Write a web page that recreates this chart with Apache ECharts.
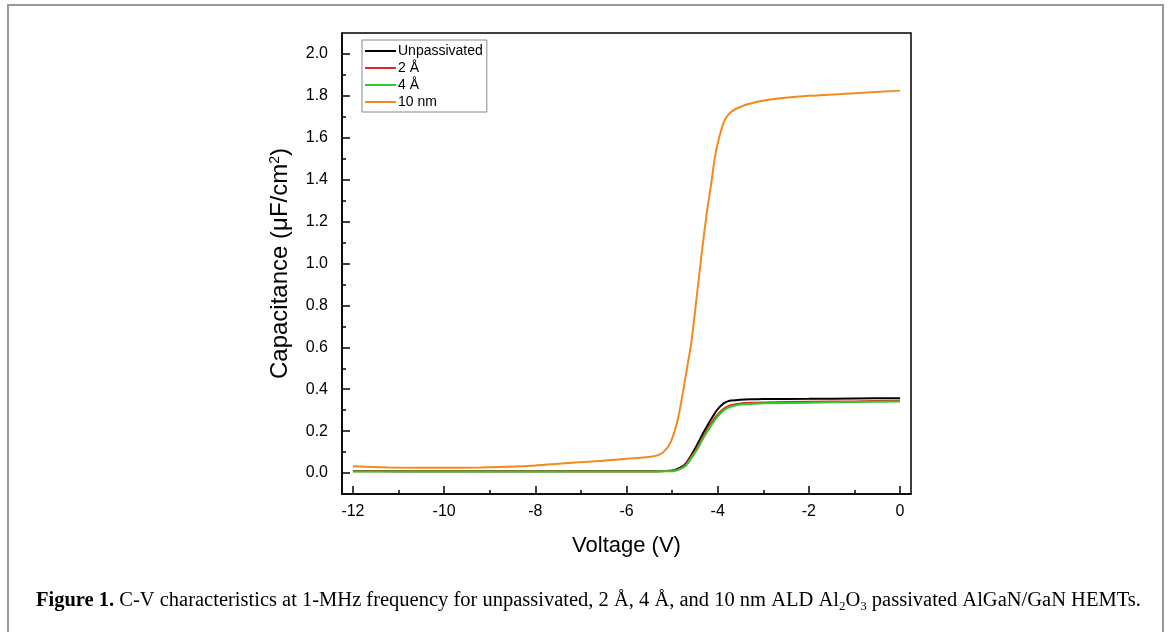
<!DOCTYPE html>
<html>
<head>
<meta charset="utf-8">
<title>C-V characteristics</title>
<script src="https://cdn.jsdelivr.net/npm/echarts@6/dist/echarts.min.js"></script>
<style>
  html, body { margin: 0; padding: 0; background: #fff; }
  #container { width: 1171px; height: 632px; }
</style>
</head>
<body>
<div id="container"></div>
<script>
// ticks
var xMajor = [-12, -10, -8, -6, -4, -2, 0];
var xMinor = [-11, -9, -7, -5, -3, -1];
var yMajor = [0, 0.2, 0.4, 0.6, 0.8, 1.0, 1.2, 1.4, 1.6, 1.8, 2.0];
var yMinor = [0.1, 0.3, 0.5, 0.7, 0.9, 1.1, 1.3, 1.5, 1.7, 1.9];

var seriesNames = ['Unpassivated', '2 Å', '4 Å', '10 nm'];

// voltage (V) for the three thin-layer curves
var vLow = [-12, -11, -10, -9, -8, -7, -6, -5.5, -5.2, -4.95, -4.8, -4.7, -4.58, -4.45, -4.32, -4.2, -4.1, -4.03, -3.95, -3.86, -3.78, -3.7, -3.5, -3.27, -3, -2, -1, 0];
// capacitance (uF/cm2)
var cUnpass = [0.010, 0.009, 0.009, 0.008, 0.008, 0.008, 0.008, 0.009, 0.010, 0.014, 0.028, 0.045, 0.085, 0.135, 0.190, 0.237, 0.272, 0.296, 0.317, 0.334, 0.342, 0.346, 0.350, 0.352, 0.353, 0.354, 0.356, 0.357];
var c2A = [0.009, 0.008, 0.008, 0.008, 0.008, 0.008, 0.008, 0.008, 0.009, 0.012, 0.024, 0.040, 0.077, 0.122, 0.175, 0.220, 0.252, 0.272, 0.292, 0.308, 0.318, 0.325, 0.332, 0.335, 0.337, 0.340, 0.342, 0.345];
var c4A = [0.007, 0.007, 0.007, 0.007, 0.007, 0.007, 0.007, 0.007, 0.008, 0.010, 0.021, 0.035, 0.070, 0.112, 0.165, 0.208, 0.242, 0.262, 0.283, 0.300, 0.311, 0.318, 0.327, 0.330, 0.333, 0.336, 0.339, 0.342];

// 10 nm curve
var v10nm = [-12, -11.2, -10, -9.2, -8.3, -7.8, -7.05, -6.6, -6.0, -5.4, -5.2, -5.03, -4.87, -4.7, -4.57, -4.46, -4.35, -4.24, -4.13, -4.06, -3.96, -3.84, -3.69, -3.44, -3.07, -2.67, -2.0, -1.0, 0];
var c10nm = [0.032, 0.027, 0.025, 0.027, 0.032, 0.040, 0.052, 0.057, 0.068, 0.080, 0.098, 0.148, 0.260, 0.465, 0.635, 0.842, 1.050, 1.240, 1.400, 1.510, 1.607, 1.687, 1.726, 1.753, 1.774, 1.787, 1.800, 1.812, 1.825];

var colors = ['#000000', '#e3262a', '#2ccc2c', '#f28a1f'];

function pairs(xs, ys) {
  return xs.map(function (x, i) { return [x, ys[i]]; });
}

var font = 'Liberation Sans, Arial, sans-serif';
var serif = 'Liberation Serif, Times New Roman, serif';

var dom = document.getElementById('container');
var myChart = echarts.init(dom, null, { renderer: 'canvas' });
var option;

function lineSeries(name, data, color, z) {
  return {
    name: name,
    type: 'line',
    data: data,
    showSymbol: false,
    smooth: 0.25,
    z: z,
    lineStyle: { color: color, width: 2 },
    itemStyle: { color: color }
  };
}

option = {
  backgroundColor: '#fff',
  animation: false,
  grid: {
    left: 342, top: 33, right: 260, bottom: 138,
    show: true, borderColor: '#000', borderWidth: 1.5
  },
  legend: {
    data: seriesNames,
    orient: 'vertical',
    left: 362, top: 40,
    padding: [3, 4, 2, 3],
    itemGap: 1,
    itemWidth: 31, itemHeight: 2,
    icon: 'rect',
    borderColor: '#888', borderWidth: 1,
    backgroundColor: '#fff',
    textStyle: { fontFamily: font, fontSize: 14, color: '#000', padding: [0, 0, 0, -3], lineHeight: 16 }
  },
  xAxis: [
    {
      type: 'value', min: -12.24, max: 0.24,
      name: 'Voltage (V)', nameLocation: 'middle', nameGap: 41,
      nameTextStyle: { fontFamily: font, fontSize: 22, color: '#000' },
      axisLine: { show: true, onZero: false, lineStyle: { color: '#000', width: 1.5 } },
      axisTick: { show: true, inside: true, length: 8, customValues: xMajor, lineStyle: { color: '#000', width: 1.5 } },
      axisLabel: { customValues: xMajor, margin: 10, fontFamily: font, fontSize: 16, color: '#000' },
      splitLine: { show: false }
    },
    {
      type: 'value', min: -12.24, max: 0.24, position: 'bottom',
      axisLine: { show: false, onZero: false },
      axisTick: { show: true, inside: true, length: 4, customValues: xMinor, lineStyle: { color: '#000', width: 1.5 } },
      axisLabel: { show: false },
      splitLine: { show: false }
    }
  ],
  yAxis: [
    {
      type: 'value', min: -0.1, max: 2.1,
      name: 'Capacitance (μF/cm{sup|2})', nameLocation: 'middle', nameGap: 50,
      nameTextStyle: {
        fontFamily: font, fontSize: 24, color: '#000',
        rich: { sup: { fontFamily: font, fontSize: 14, color: '#000', verticalAlign: 'top', lineHeight: 14 } }
      },
      axisLine: { show: true, onZero: false, lineStyle: { color: '#000', width: 1.5 } },
      axisTick: { show: true, inside: true, length: 8, customValues: yMajor, lineStyle: { color: '#000', width: 1.5 } },
      axisLabel: {
        customValues: yMajor, margin: 14, fontFamily: font, fontSize: 16, color: '#000',
        formatter: function (v) { return v.toFixed(1); }
      },
      splitLine: { show: false }
    },
    {
      type: 'value', min: -0.1, max: 2.1, position: 'left',
      axisLine: { show: false, onZero: false },
      axisTick: { show: true, inside: true, length: 4, customValues: yMinor, lineStyle: { color: '#000', width: 1.5 } },
      axisLabel: { show: false },
      splitLine: { show: false }
    }
  ],
  series: [
    lineSeries(seriesNames[0], pairs(vLow, cUnpass), colors[0], 2),
    lineSeries(seriesNames[1], pairs(vLow, c2A), colors[1], 3),
    lineSeries(seriesNames[2], pairs(vLow, c4A), colors[2], 4),
    lineSeries(seriesNames[3], pairs(v10nm, c10nm), colors[3], 5)
  ],
  graphic: [
    {
      type: 'rect', silent: true, z: -1,
      shape: { x: 8, y: 5, width: 1155, height: 640 },
      style: { fill: 'none', stroke: '#999', lineWidth: 2 }
    },
    {
      type: 'text', left: 36, top: 589, silent: true,
      style: {
        text: '{b|Figure 1.} C-V characteristics at 1-MHz frequency for unpassivated, 2 Å, 4 Å, and 10 nm ALD Al{s|2}O{s|3} passivated AlGaN/GaN HEMTs.',
        fontFamily: serif, fontSize: 20.5, fill: '#000', lineHeight: 24,
        rich: {
          b: { fontFamily: serif, fontSize: 20.5, fontWeight: 'bold', fill: '#000', lineHeight: 24 },
          s: { fontFamily: serif, fontSize: 13, fill: '#000', verticalAlign: 'bottom', lineHeight: 15 }
        }
      }
    }
  ]
};

if (option && typeof option === 'object') {
  myChart.setOption(option);
}
</script>
</body>
</html>
